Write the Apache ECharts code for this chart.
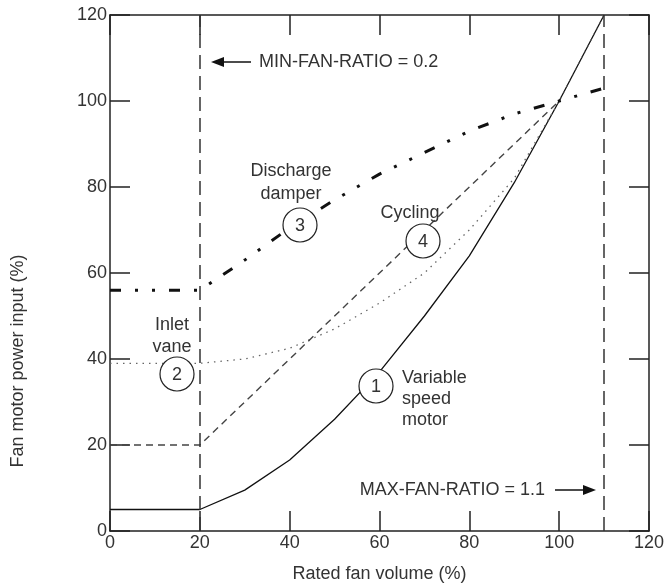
<!DOCTYPE html>
<html>
<head>
<meta charset="utf-8">
<script src="https://cdn.jsdelivr.net/npm/echarts@6/dist/echarts.min.js"></script>
<style>
  html, body { margin: 0; padding: 0; background: #fff; }
  #chart { width: 667px; height: 588px; }
</style>
</head>
<body>
<div id="chart"></div>
<script>
// fan volume (%) and power input (%)
var speedX = [0, 20, 30, 40, 50, 60, 70, 80, 90, 100, 110];
var speedY = [5, 5, 9.5, 16.5, 26, 37, 50, 64, 81, 100, 120];

var vaneX = [0, 20, 30, 40, 50, 60, 70, 80, 90, 100, 110];
var vaneY = [39, 39, 40, 42.5, 47, 53, 60, 70, 82, 100, 120];

var damperX = [0, 20, 30, 40, 50, 60, 70, 80, 90, 100, 110];
var damperY = [56, 56, 63, 70.5, 77, 83, 88, 93, 97, 100, 103];

var cyclingX = [0, 20, 100];
var cyclingY = [20, 20, 100];

var fanRatios = [20, 110];   // MIN-FAN-RATIO, MAX-FAN-RATIO

function pairs(xs, ys) {
  var out = [];
  for (var i = 0; i < xs.length; i++) out.push([xs[i], ys[i]]);
  return out;
}

var FONT = '"Liberation Sans", Arial, sans-serif';
var txt = '#333';

var chart = echarts.init(document.getElementById('chart'));

var axisCommon = {
  type: 'value',
  min: 0,
  max: 120,
  interval: 20,
  axisLine: { show: true, onZero: false, lineStyle: { color: '#222', width: 1.5 } },
  axisTick: { show: true, inside: true, length: 20, lineStyle: { color: '#222', width: 1.5 } },
  splitLine: { show: false }
};

function label(text, x, y, align) {
  return {
    type: 'text', z: 100,
    style: {
      text: text, x: x, y: y, fill: txt, font: '18px ' + FONT,
      textAlign: align || 'center', align: align || 'center',
      textVerticalAlign: 'middle', verticalAlign: 'middle'
    }
  };
}

function badge(num, cx, cy) {
  return {
    type: 'group', z: 100,
    children: [
      { type: 'circle', shape: { cx: cx, cy: cy, r: 17 },
        style: { fill: '#fff', stroke: '#222', lineWidth: 1.2 }, z: 100 },
      label(String(num), cx, cy + 1)
    ]
  };
}

function arrow(x1, x2, y) {
  var dir = x2 > x1 ? 1 : -1;
  var base = x2 - dir * 13;
  return {
    type: 'group', z: 100,
    children: [
      { type: 'line', z: 100, shape: { x1: x1, y1: y, x2: base, y2: y },
        style: { stroke: '#111', lineWidth: 1.5 } },
      { type: 'polygon', z: 100, shape: { points: [[x2, y], [base, y - 5], [base, y + 5]] },
        style: { fill: '#111' } }
    ]
  };
}

var option = {
  backgroundColor: '#fff',
  animation: false,
  grid: { left: 110, right: 15, top: 15, bottom: 44 },
  xAxis: [
    echarts.util.merge({
      position: 'bottom',
      name: 'Rated fan volume (%)',
      nameLocation: 'middle',
      nameGap: 34,
      nameTextStyle: { color: txt, fontSize: 18, fontFamily: FONT },
      axisLabel: { color: txt, fontSize: 18, fontFamily: FONT, margin: 3 }
    }, axisCommon),
    echarts.util.merge({ position: 'top', axisLabel: { show: false } }, axisCommon)
  ],
  yAxis: [
    echarts.util.merge({
      position: 'left',
      axisLabel: { color: txt, fontSize: 18, fontFamily: FONT, margin: 3 }
    }, axisCommon),
    echarts.util.merge({ position: 'right', axisLabel: { show: false } }, axisCommon)
  ],
  series: [
    {
      name: 'Variable speed motor', type: 'line', showSymbol: false,
      data: pairs(speedX, speedY),
      lineStyle: { color: '#111', width: 1.3 }
    },
    {
      name: 'Inlet vane', type: 'line', showSymbol: false,
      data: pairs(vaneX, vaneY),
      lineStyle: { color: '#666', width: 1.3, type: [1.5, 5] }
    },
    {
      name: 'Discharge damper', type: 'line', showSymbol: false,
      data: pairs(damperX, damperY),
      lineStyle: { color: '#111', width: 3, type: [11, 14, 3, 14, 3, 14] }
    },
    {
      name: 'Cycling', type: 'line', showSymbol: false,
      data: pairs(cyclingX, cyclingY),
      lineStyle: { color: '#444', width: 1.4, type: [7, 5] }
    },
    {
      name: 'fan ratio', type: 'line', data: [],
      markLine: {
        silent: true, symbol: 'none', label: { show: false },
        lineStyle: { color: '#333', width: 1.5, type: [14, 7] },
        data: fanRatios.map(function (v) { return { xAxis: v }; })
      }
    }
  ],
  graphic: [
    {
      type: 'text', z: 100, x: 18, y: 361, rotation: Math.PI / 2,
      style: {
        text: 'Fan motor power input (%)', fill: txt, font: '18px ' + FONT,
        textAlign: 'center', align: 'center',
        textVerticalAlign: 'middle', verticalAlign: 'middle'
      }
    },
    label('MIN-FAN-RATIO = 0.2', 259, 62, 'left'),
    arrow(251, 211, 62),
    label('MAX-FAN-RATIO = 1.1', 545, 490, 'right'),
    arrow(555, 596, 490),
    label('Discharge', 291, 171),
    label('damper', 291, 194),
    label('Cycling', 410, 213),
    label('Inlet', 172, 325),
    label('vane', 172, 347),
    label('Variable', 402, 378, 'left'),
    label('speed', 402, 399, 'left'),
    label('motor', 402, 420, 'left'),
    badge(1, 376, 386),
    badge(2, 177, 374),
    badge(3, 300, 225),
    badge(4, 423, 241)
  ]
};

chart.setOption(option);
</script>
</body>
</html>
